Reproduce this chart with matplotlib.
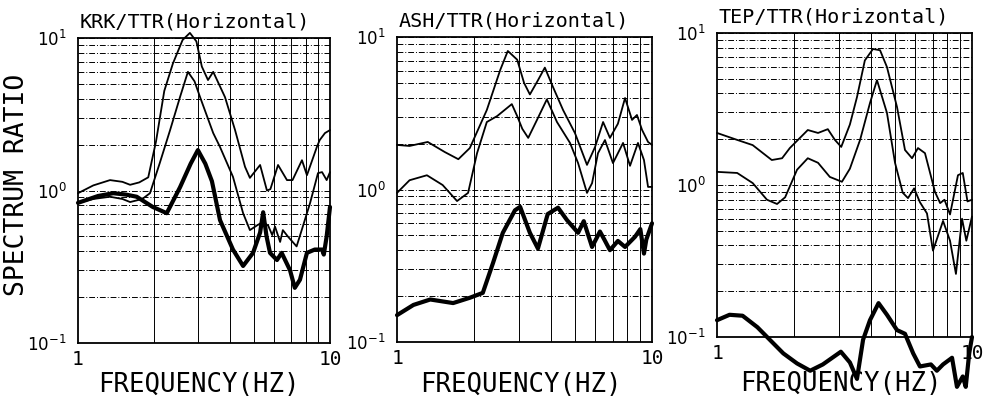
import matplotlib
matplotlib.use("Agg")
import matplotlib.pyplot as plt
from matplotlib.ticker import LogLocator, NullFormatter, FixedLocator

plt.rcParams['font.family'] = ['DejaVu Sans Mono', 'DejaVu Sans']

# KRK/TTR spectral ratios
krk_f_a = [1.0, 1.15, 1.34, 1.5, 1.61, 1.75, 1.9, 2.04, 2.2, 2.38, 2.6, 2.78, 2.95, 3.1,
           3.28, 3.44, 3.83, 4.2, 4.6, 4.81, 5.28, 5.62, 5.8, 6.22, 6.75, 7.1, 7.74, 8.1,
           8.87, 9.1, 9.55, 10.0]
krk_a = [0.96, 1.08, 1.17, 1.14, 1.09, 1.13, 1.22, 2.1, 4.5, 6.8, 9.7, 10.8, 9.5, 6.5,
         5.3, 6.0, 4.1, 2.49, 1.43, 1.21, 1.47, 1.0, 1.02, 1.47, 1.17, 1.17, 1.58, 1.26,
         1.93, 2.14, 2.38, 2.49]
krk_f_b = [1.0, 1.15, 1.34, 1.5, 1.61, 1.8, 1.93, 2.11, 2.32, 2.54, 2.73, 2.9, 3.05, 3.44,
           3.66, 4.12, 4.52, 4.81, 5.13, 5.4, 5.68, 5.9, 6.05, 6.34, 6.5, 6.8, 7.37, 7.8,
           8.34, 8.96, 9.3, 9.7, 10.0]
krk_b = [0.83, 0.88, 0.91, 0.88, 0.84, 0.88, 0.96, 1.51, 2.49, 4.1, 6.0, 5.2, 4.1, 2.38,
         1.93, 1.23, 0.71, 0.55, 0.59, 0.62, 0.59, 0.51, 0.58, 0.46, 0.55, 0.50, 0.43, 0.58,
         0.83, 1.3, 1.32, 1.17, 1.32]
krk_f_c = [1.0, 1.2, 1.38, 1.55, 1.71, 1.98, 2.25, 2.54, 2.8, 2.99, 3.2, 3.4, 3.66, 4.12,
           4.52, 4.95, 5.28, 5.43, 5.6, 5.78, 6.16, 6.43, 6.94, 7.25, 7.6, 8.1, 8.7, 9.3,
           9.45, 9.7, 10.0]
krk_c = [0.83, 0.92, 0.96, 0.94, 0.91, 0.78, 0.71, 1.05, 1.5, 1.84, 1.5, 1.15, 0.64, 0.41,
         0.32, 0.39, 0.53, 0.72, 0.5, 0.39, 0.35, 0.39, 0.30, 0.23, 0.26, 0.39, 0.41, 0.41,
         0.38, 0.5, 0.78]

# ASH/TTR spectral ratios
ash_f_a = [1.0, 1.12, 1.32, 1.54, 1.74, 1.93, 2.25, 2.54, 2.72, 2.96, 3.15, 3.32, 3.57,
           3.8, 4.09, 4.48, 4.99, 5.56, 5.98, 6.43, 6.84, 7.35, 7.84, 8.35, 8.73, 9.14,
           9.65, 10.0]
ash_a = [1.96, 1.93, 2.05, 1.76, 1.58, 1.87, 3.32, 6.08, 8.1, 7.1, 5.0, 4.2, 5.2, 6.3,
         4.7, 3.32, 2.34, 1.45, 1.9, 2.77, 2.18, 2.7, 3.98, 2.86, 3.08, 2.46, 2.05, 1.96]
ash_f_b = [1.0, 1.12, 1.31, 1.51, 1.72, 1.9, 2.06, 2.25, 2.47, 2.82, 2.96, 3.1, 3.27, 3.54,
           3.87, 4.24, 4.77, 5.13, 5.56, 5.82, 6.14, 6.54, 7.03, 7.7, 8.2, 8.81, 9.3, 9.65,
           10.0]
ash_b = [0.95, 1.15, 1.24, 1.07, 0.84, 0.95, 1.73, 2.77, 3.03, 3.63, 3.03, 2.5, 2.18, 2.86,
         3.9, 2.77, 2.02, 1.49, 0.95, 1.1, 1.73, 2.11, 1.49, 2.02, 1.43, 2.02, 1.56, 1.04,
         1.04]
ash_f_c = [1.0, 1.16, 1.35, 1.66, 1.93, 2.17, 2.38, 2.6, 2.9, 3.04, 3.32, 3.57, 3.9, 4.28,
           4.64, 5.13, 5.4, 5.82, 6.25, 6.5, 6.84, 7.35, 7.84, 8.58, 9.0, 9.3, 9.5, 10.0]
ash_c = [0.15, 0.175, 0.19, 0.18, 0.195, 0.21, 0.33, 0.52, 0.73, 0.77, 0.52, 0.41, 0.69,
         0.76, 0.63, 0.52, 0.62, 0.42, 0.53, 0.47, 0.40, 0.46, 0.42, 0.49, 0.55, 0.38, 0.47,
         0.6]

# TEP/TTR spectral ratios
tep_f_a = [1.0, 1.2, 1.38, 1.64, 1.8, 1.93, 2.27, 2.49, 2.72, 2.9, 3.07, 3.32, 3.54, 3.8,
           4.09, 4.36, 4.64, 5.08, 5.46, 5.82, 6.14, 6.54, 7.16, 7.5, 7.8, 8.2, 8.81, 9.2,
           9.6, 10.0]
tep_a = [2.2, 1.98, 1.83, 1.46, 1.5, 1.75, 2.3, 2.2, 2.33, 1.98, 1.78, 2.5, 3.79, 6.6,
         7.85, 7.7, 5.97, 3.26, 1.7, 1.5, 1.75, 1.62, 0.9, 0.76, 0.8, 0.64, 1.16, 1.2,
         0.78, 0.8]
tep_f_b = [1.0, 1.2, 1.38, 1.57, 1.72, 1.85, 2.06, 2.27, 2.49, 2.77, 3.09, 3.32, 3.64,
           3.98, 4.24, 4.64, 4.99, 5.35, 5.61, 5.93, 6.25, 6.66, 7.03, 7.7, 8.2, 8.65, 9.14,
           9.5, 10.0]
tep_b = [1.22, 1.2, 1.03, 0.8, 0.75, 0.83, 1.26, 1.5, 1.4, 1.13, 1.05, 1.28, 1.98, 3.46,
         4.9, 2.98, 1.4, 0.89, 0.82, 0.95, 0.77, 0.65, 0.37, 0.58, 0.43, 0.26, 0.6, 0.43,
         0.62]
tep_f_c = [1.0, 1.12, 1.26, 1.44, 1.61, 1.82, 2.06, 2.32, 2.6, 3.06, 3.32, 3.54, 3.74,
           3.98, 4.3, 4.64, 5.08, 5.46, 5.88, 6.25, 6.9, 7.28, 7.7, 8.35, 8.73, 9.2, 9.45,
           9.75, 10.0]
tep_c = [0.129, 0.14, 0.138, 0.116, 0.096, 0.078, 0.067, 0.06, 0.066, 0.08, 0.068, 0.053,
         0.096, 0.129, 0.167, 0.14, 0.111, 0.105, 0.078, 0.064, 0.066, 0.06, 0.066, 0.073,
         0.047, 0.055, 0.047, 0.078, 0.1]

titles = ["KRK/TTR(Horizontal)", "ASH/TTR(Horizontal)", "TEP/TTR(Horizontal)"]
panels = [
    [(krk_f_a, krk_a), (krk_f_b, krk_b), (krk_f_c, krk_c)],
    [(ash_f_a, ash_a), (ash_f_b, ash_b), (ash_f_c, ash_c)],
    [(tep_f_a, tep_a), (tep_f_b, tep_b), (tep_f_c, tep_c)],
]

W, H = 988, 412
# axes boxes in pixels: left, top, right, bottom
boxes = [(78, 38, 330, 343), (397, 37, 652, 342), (717, 33, 972, 337)]
xlabel_pos = [(199, 385), (521, 385), (841, 384)]
widths = [1.3, 1.3, 3.0]

fig = plt.figure(figsize=(W / 100, H / 100), dpi=100)

for i, (l, t, r, b) in enumerate(boxes):
    ax = fig.add_axes([l / W, 1 - b / H, (r - l) / W, (b - t) / H])
    for (f, v), lw in zip(panels[i], widths):
        ax.plot(f, v, color='black', lw=lw, solid_joinstyle='round',
                solid_capstyle='round', clip_on=False, zorder=3)
    ax.set_xscale('log')
    ax.set_yscale('log')
    ax.set_xlim(1, 10)
    ax.set_ylim(0.1, 10)

    ax.xaxis.set_major_locator(FixedLocator([1, 10]))
    ax.xaxis.set_minor_locator(LogLocator(subs=range(2, 10)))
    ax.xaxis.set_minor_formatter(NullFormatter())
    ax.set_xticklabels(['1', '10'])
    ax.yaxis.set_major_locator(FixedLocator([0.1, 1, 10]))
    ax.yaxis.set_minor_locator(LogLocator(subs=range(2, 10)))
    ax.yaxis.set_minor_formatter(NullFormatter())
    ax.set_yticklabels([r'$10^{-1}$', r'$10^{0}$', r'$10^{1}$'])
    ax.tick_params(which='both', length=0)
    ax.tick_params(axis='x', labelsize=14, pad=5)
    ax.tick_params(axis='y', labelsize=12, pad=8)

    ax.grid(which='minor', axis='x', color='black', lw=0.7, ls='-')
    ax.grid(which='both', axis='y', color='black', lw=0.7, ls=(0, (6, 2, 1, 2)))
    for s in ax.spines.values():
        s.set_linewidth(1.3)

    ax.text(0.005, 1.02, titles[i], transform=ax.transAxes, fontsize=14.5,
            ha='left', va='bottom')
    fig.text(xlabel_pos[i][0] / W, 1 - xlabel_pos[i][1] / H, "FREQUENCY(HZ)",
             fontsize=18.5, ha='center', va='center')

fig.text(17 / W, 1 - 185 / H, "SPECTRUM RATIO", rotation=90, fontsize=19,
         ha='center', va='center')

fig.savefig('out.png', dpi=100)
